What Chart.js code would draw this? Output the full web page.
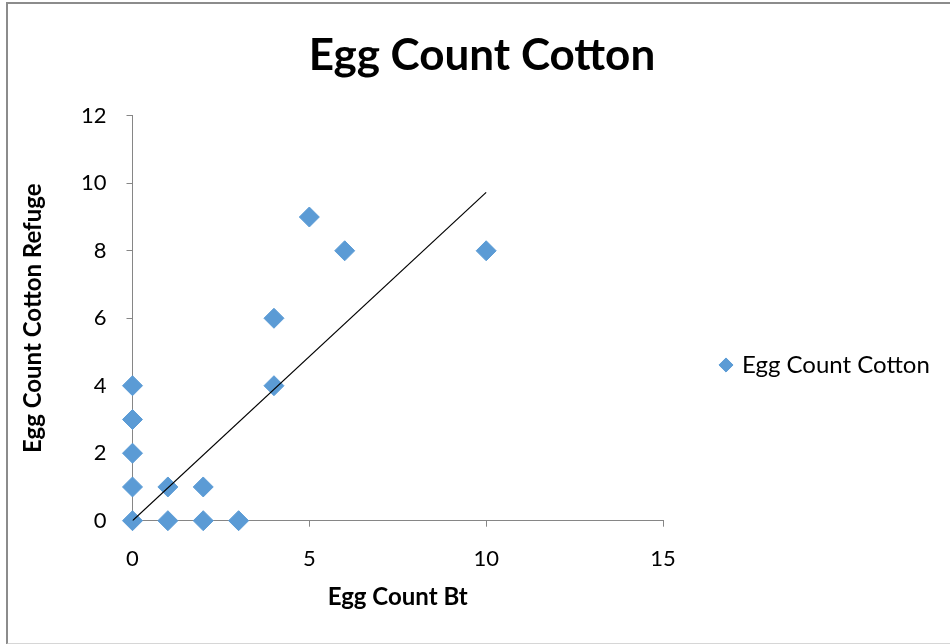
<!DOCTYPE html>
<html>
<head>
<meta charset="utf-8">
<script src="https://cdn.jsdelivr.net/npm/chart.js@4/dist/chart.umd.min.js"></script>
<style>
  html, body { margin: 0; padding: 0; background: #fff; }
  #wrap { position: relative; width: 950px; height: 644px; overflow: hidden; }
  #frame {
    position: absolute; left: 6px; top: 2px; width: 1000px; height: 639px;
    border-left: 2px solid #8c8c8c; border-top: 2px solid #8c8c8c;
    border-bottom: 2px solid #d6d6d6;
  }
  canvas { position: absolute; left: 0; top: 0; }
</style>
</head>
<body>
<div id="wrap">
  <div id="frame"></div>
  <canvas id="myChart" width="950" height="644"></canvas>
</div>
<script>
// egg counts
const btCounts     = [0, 0, 0, 0, 0, 1, 1, 2, 2, 3, 4, 4, 5, 6, 10];
const refugeCounts = [0, 1, 2, 3, 4, 0, 1, 0, 1, 0, 4, 6, 9, 8, 8];

// linear trendline ends
const trendX = [0, 10];
const trendY = [0, 9.73];

const xTicks = [0, 5, 10, 15];
const yTicks = [0, 2, 4, 6, 8, 10, 12];

const blue = '#5B9BD5';
const axisGrey = '#868686';
const font = 'Lato, Calibri, sans-serif';

const points = btCounts.map((x, i) => ({ x: x, y: refugeCounts[i] }));
const trend = trendX.map((x, i) => ({ x: x, y: trendY[i] }));

// widen the legend box so the plot ends where the original one does,
// and start it below the title so the entry sits lower
const legendBox = {
    id: 'legendBox',
    beforeLayout(chart) {
        const lg = chart.legend;
        if (lg && !lg._wide) {
            const fit = lg.fit;
            lg.fit = function () { fit.call(this); this.width = 287; };
            lg._wide = true;
        }
    },
    afterLayout(chart) {
        const lg = chart.legend;
        if (lg) {
            lg.top = 116;
            lg.height = lg.bottom - lg.top;
        }
    }
};

new Chart(document.getElementById('myChart'), {
    type: 'scatter',
    data: {
        datasets: [{
            label: 'Egg Count Cotton',
            data: points,
            backgroundColor: blue,
            borderColor: blue,
            pointStyle: 'rectRot',
            pointRadius: 10,
            pointHoverRadius: 10,
            clip: false,
            order: 1
        }, {
            type: 'line',
            label: 'trend',
            data: trend,
            borderColor: '#000',
            borderWidth: 1.2,
            pointRadius: 0,
            fill: false,
            order: 0
        }]
    },
    plugins: [legendBox],
    options: {
        responsive: false,
        animation: false,
        layout: { padding: { left: 14, right: 0, top: 0, bottom: 30 } },
        plugins: {
            title: {
                display: true,
                text: 'Egg Count Cotton',
                color: '#000',
                font: { family: font, size: 44, weight: 'bold', lineHeight: 1.2 },
                padding: { top: 29, bottom: 34 }
            },
            legend: {
                position: 'right',
                labels: {
                    usePointStyle: true,
                    pointStyle: 'rectRot',
                    boxWidth: 8,
                    boxHeight: 10,
                    padding: 59,
                    color: '#000',
                    font: { family: font, size: 24 },
                    filter: item => item.text !== 'trend'
                }
            },
            tooltip: { enabled: false }
        },
        scales: {
            x: {
                type: 'linear',
                min: 0,
                max: 15,
                afterFit: s => { s.height = 644 - 30 - 520.7; },
                afterBuildTicks: s => { s.ticks = xTicks.map(v => ({ value: v })); },
                grid: { drawOnChartArea: false, color: axisGrey, tickLength: 6 },
                border: { color: axisGrey, width: 1 },
                ticks: { color: '#000', padding: 19, font: { family: font, size: 22 } },
                title: {
                    display: true,
                    text: 'Egg Count Bt',
                    color: '#000',
                    font: { family: font, size: 24, weight: 'bold', lineHeight: 1.2 },
                    padding: { top: 0, bottom: 2 }
                }
            },
            y: {
                type: 'linear',
                min: 0,
                max: 12,
                afterFit: s => { s.width = 132.5 - 14; },
                afterBuildTicks: s => { s.ticks = yTicks.map(v => ({ value: v })); },
                grid: { drawOnChartArea: false, color: axisGrey, tickLength: 6 },
                border: { color: axisGrey, width: 1 },
                ticks: { color: '#000', padding: 20, font: { family: font, size: 22 } },
                title: {
                    display: true,
                    text: 'Egg Count Cotton Refuge',
                    color: '#000',
                    font: { family: font, size: 24, weight: 'bold', lineHeight: 1.2 },
                    padding: { top: 5, bottom: 0 }
                }
            }
        }
    }
});
</script>
</body>
</html>
